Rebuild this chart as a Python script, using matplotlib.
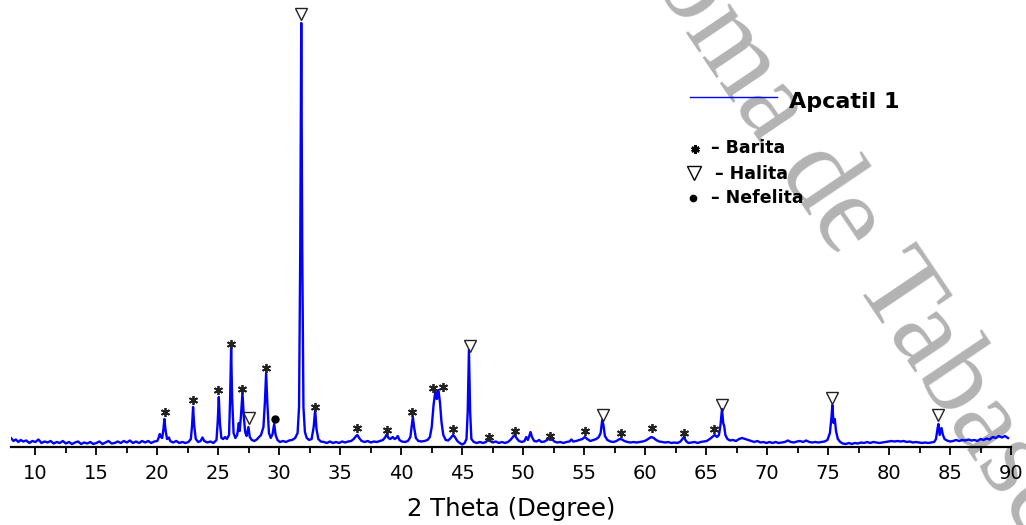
import matplotlib
matplotlib.use("Agg")
import matplotlib.pyplot as plt
from matplotlib.lines import Line2D
from matplotlib.ticker import MultipleLocator

plt.rcParams['font.family'] = ['DejaVu Sans']

# ---------------- data ----------------
two_theta = [
    8.0, 8.2, 8.4, 8.6, 8.8, 9.0, 9.25, 9.5, 9.75, 10.0, 10.25, 10.5, 10.75, 11.0, 11.25, 11.5, 11.75,
    12.0, 12.25, 12.5, 12.75, 13.0, 13.25, 13.5, 13.75, 14.0, 14.25, 14.5, 14.75, 15.0, 15.25, 15.5,
    15.75, 16.0, 16.25, 16.5, 16.75, 17.0, 17.25, 17.5, 17.75, 18.0, 18.25, 18.5, 18.75, 19.0, 19.25,
    19.5, 19.75,
    20.0, 20.1, 20.2, 20.3, 20.4, 20.5, 20.58, 20.68, 20.8, 20.95, 21.05, 21.3, 21.55, 21.8, 22.05,
    22.3, 22.55, 22.75, 22.85, 22.93, 23.02, 23.15, 23.35, 23.55, 23.7, 23.85, 24.1, 24.35, 24.6,
    24.85, 24.95, 25.04, 25.13, 25.25, 25.4, 25.55, 25.7, 25.88, 25.97, 26.05, 26.13, 26.25, 26.4,
    26.55, 26.68, 26.75, 26.85, 26.98, 27.08, 27.2, 27.32, 27.47, 27.58, 27.75, 27.95, 28.15, 28.35,
    28.5, 28.7, 28.82, 28.92, 29.02, 29.15, 29.3, 29.45, 29.58, 29.7, 29.85, 30.05, 30.3, 30.55,
    30.8, 31.05, 31.3, 31.5, 31.62, 31.72, 31.8, 31.88, 31.98, 32.1, 32.25, 32.45, 32.65, 32.82,
    32.94, 33.05, 33.2, 33.4, 33.65, 33.9,
    34.15, 34.4, 34.65, 34.9, 35.15, 35.4, 35.65, 35.9, 36.1, 36.3, 36.4, 36.55, 36.75, 37.0, 37.25,
    37.5, 37.75, 38.0, 38.25, 38.5, 38.7, 38.82, 38.95, 39.1, 39.3, 39.45, 39.6, 39.72, 39.85, 40.05,
    40.3, 40.55, 40.75, 40.87, 40.95, 41.05, 41.2, 41.4, 41.65, 41.9, 42.15, 42.35, 42.5, 42.65,
    42.8, 42.92, 43.05, 43.18, 43.3, 43.45, 43.65, 43.85, 44.05, 44.25, 44.4, 44.6, 44.8, 45.0,
    45.2, 45.35, 45.45, 45.55, 45.65, 45.75, 45.95,
    46.2, 46.45, 46.7, 46.95, 47.15, 47.3, 47.5, 47.75, 48.0, 48.25, 48.5, 48.75, 48.95, 49.15,
    49.3, 49.45, 49.65, 49.9, 50.1, 50.25, 50.38, 50.5, 50.6, 50.72, 50.9, 51.1, 51.3, 51.5, 51.75,
    51.95, 52.15, 52.35, 52.55, 52.8, 53.05, 53.3, 53.55, 53.8, 53.95, 54.1, 54.35, 54.6, 54.85,
    55.05, 55.25, 55.5, 55.75, 56.0, 56.2, 56.35, 56.48, 56.58, 56.7, 56.9, 57.15, 57.4, 57.65,
    57.9, 58.1, 58.3, 58.55, 58.8, 59.05, 59.3, 59.55, 59.8, 60.05, 60.3, 60.5, 60.7, 60.9, 61.15,
    61.4, 61.65, 61.9, 62.15, 62.4, 62.65, 62.9, 63.05, 63.18, 63.35, 63.55, 63.8, 64.05, 64.3,
    64.55, 64.8, 65.05, 65.3, 65.5, 65.7, 65.9, 66.05, 66.18, 66.3, 66.4, 66.48, 66.58, 66.75, 66.95,
    67.2, 67.45, 67.7, 67.95, 68.2, 68.45, 68.7, 68.95, 69.2, 69.45, 69.7, 69.95, 70.2, 70.45, 70.7,
    70.95, 71.2, 71.45, 71.7, 71.95, 72.2, 72.45, 72.7, 72.95, 73.2, 73.45, 73.7, 73.95, 74.2, 74.45,
    74.7, 74.95, 75.15, 75.28, 75.35, 75.45, 75.55, 75.65, 75.8, 76.0, 76.2, 76.45, 76.7, 76.95,
    77.2, 77.45, 77.7, 77.95, 78.2, 78.45, 78.7, 78.95, 79.2, 79.45, 79.7, 79.95, 80.2, 80.45, 80.7,
    80.95, 81.2, 81.45, 81.7, 81.95, 82.2, 82.45, 82.7, 82.95, 83.2, 83.45, 83.7, 83.85, 83.97,
    84.05, 84.15, 84.3, 84.42, 84.55, 84.75, 85.0, 85.25, 85.5, 85.75, 86.0, 86.25, 86.5, 86.75,
    87.0, 87.25, 87.5, 87.75, 88.0, 88.25, 88.5, 88.75, 89.0, 89.25, 89.5, 89.75,
]
intensity = [
    9, 6, 7.5, 5, 7, 5.5, 6.5, 4, 6, 5, 7.5, 4, 5.5, 4.5, 6, 3.5, 5,
    4, 6, 3.5, 5, 3, 4.5, 5.5, 3, 4.5, 3.5, 5, 3, 4, 5.5, 3,
    4.5, 6, 3.5, 4, 5.5, 4, 6, 4.5, 6.5, 4, 5.5, 4, 6, 4.5, 6,
    4, 5.5,
    6, 9, 13, 10, 9, 18, 28, 16, 8, 9.5, 6, 4.5, 6, 4, 5,
    4, 5, 8, 22, 40, 22, 8, 5, 6, 9.5, 6, 4.5, 5.5, 4,
    7, 25, 50, 24, 9, 8, 10, 8, 12, 50, 99, 50, 14, 9,
    12, 24, 16, 30, 54, 32, 15, 11, 20, 10, 7, 6, 7.5, 10,
    12, 20, 45, 74, 44, 14, 9, 13, 23, 12, 7, 5, 6, 5,
    6.5, 7, 9, 14, 40, 200, 424, 200, 40, 15, 9, 7, 8, 20,
    37, 18, 8, 5.5, 5, 4,
    5.5, 4, 5, 4, 5.5, 4.5, 5.5, 6, 8, 11, 12, 9, 6, 5, 6,
    4.5, 5.5, 5, 6, 7, 10, 13, 9, 8, 10, 8, 9, 11, 7, 5.5,
    5, 6, 10, 22, 30, 20, 9, 6, 5.5, 6, 7, 10, 20, 42,
    56, 48, 57, 44, 25, 12, 7, 6.5, 9, 12, 10, 6, 4, 2.5,
    4, 8, 35, 97, 35, 8, 5,
    4, 5, 4, 5, 8, 6, 4.5, 5.5, 4, 5, 4, 5, 7, 10,
    12, 9, 6, 5, 6, 10, 7, 11, 15, 10, 6, 5.5, 7, 5, 5.5,
    7, 8.5, 8, 5.5, 4.5, 5, 4, 5, 5.5, 7.5, 5.5, 6, 7, 8,
    10, 8, 6, 7, 8, 10, 14, 27, 22, 11, 7, 5.5, 5, 6,
    8, 7.5, 6, 5, 4.5, 5, 4.5, 5, 5.5, 6.5, 8.5, 10, 9, 7, 5.5,
    5, 4.5, 5, 4, 4.5, 4, 5.5, 8, 10, 6, 4, 4.5, 5, 4,
    5, 5.5, 6, 8, 10, 12, 10, 12, 22, 38, 24, 21, 12, 8, 6.5,
    7, 6, 8, 9, 8, 7, 6, 5, 6, 4.5, 5, 4, 5, 4, 5,
    4, 4.5, 5, 6.5, 5, 4.5, 5.5, 6, 5, 6.5, 5, 4.5, 5, 4.5, 5,
    5.5, 7, 14, 30, 42, 24, 28, 16, 8, 5, 3.5, 3, 4, 3,
    4, 3.5, 4.5, 4, 5, 4, 5, 4.5, 4, 4.5, 5, 5.5, 6, 5.5, 6,
    5.5, 6, 5, 5.5, 4.5, 5, 4.5, 4, 4.5, 4, 4.5, 5, 8, 18,
    23, 12, 19, 12, 8, 6.5, 5.5, 6, 7, 6, 7, 6.5, 7.5, 6.5,
    7, 6, 8, 7, 8.5, 7.5, 10, 9, 11, 9.5, 11, 9,
]

# phase markers (position, height of the symbol)
barita_x = [20.6, 22.9, 25.0, 26.0, 26.95, 28.9, 32.9, 36.4, 38.8, 40.9, 42.62, 43.39, 44.25,
            47.2, 49.3, 52.2, 55.1, 58.0, 60.53, 63.2, 65.64]
barita_y = [35, 47, 57, 103, 58, 79, 40, 19, 17, 35, 59, 60, 18,
            10, 16, 11, 16, 14, 19, 14, 18]
halita_x = [27.55, 31.8, 45.6, 56.54, 66.33, 75.35, 84.02]
halita_y = [29, 433, 101, 32, 42, 49, 32]
nefelita_x = [29.63]
nefelita_y = [28]

major_ticks = list(range(10, 95, 5))
series_name = "Apcatil 1"
legend_labels = ["\u2013 Barita", "\u2013 Halita", "\u2013 Nefelita"]
x_title = "2 Theta (Degree)"

# ---------------- figure ----------------
W, H = 1026, 525
fig = plt.figure(figsize=(W / 100, H / 100), dpi=100)
ax = fig.add_axes([11 / W, 78 / H, 1000 / W, 447 / H])
ax.patch.set_visible(False)

ax.plot(two_theta, intensity, color='#0000ff', lw=1.7, zorder=3)

ax.plot(barita_x, barita_y, linestyle='none', marker=(6, 2, 0), ms=6.5, mew=1.3,
        color='#222222', zorder=4)
ax.plot(halita_x, halita_y, linestyle='none', marker='v', ms=8, mew=1.0,
        mfc='none', mec='#222222', zorder=4)
ax.plot(nefelita_x, nefelita_y, linestyle='none', marker='o', ms=5,
        color='black', zorder=4)

ax.set_xlim(8, 90)
ax.set_ylim(0, 447)
for s in ('top', 'left', 'right'):
    ax.spines[s].set_visible(False)
ax.spines['bottom'].set_linewidth(1.6)
ax.set_yticks([])
ax.set_xticks(major_ticks)
ax.set_xticklabels([str(t) for t in major_ticks])
ax.xaxis.set_minor_locator(MultipleLocator(2.5))
ax.tick_params(axis='x', which='major', direction='out', length=6, width=1.3,
               labelsize=14, pad=6)
ax.tick_params(axis='x', which='minor', direction='out', length=4, width=1.3)
ax.set_xlabel(x_title, fontsize=17.5)
ax.xaxis.set_label_coords(0.5, -50 / 447)

# ---------------- legend / key ----------------
def fxy(px, py):
    return (px / W, 1 - py / H)

fig.add_artist(Line2D([690 / W, 777 / W], [1 - 97 / H] * 2, transform=fig.transFigure,
                      color='#0000ff', lw=1.0))
fig.text(*fxy(789, 108), series_name, fontsize=16, fontweight='bold', ha='left', va='baseline')

fig.add_artist(Line2D([695 / W], [1 - 148.5 / H], transform=fig.transFigure, marker=(6, 2, 0),
                      ms=6, mew=1.8, color='black', linestyle='none'))
fig.add_artist(Line2D([694 / W], [1 - 173 / H], transform=fig.transFigure, marker='v',
                      ms=9.5, mew=1.0, mfc='none', mec='black', linestyle='none'))
fig.add_artist(Line2D([693 / W], [1 - 198 / H], transform=fig.transFigure, marker='o',
                      ms=4.5, color='black', linestyle='none'))
for lbl, px, py in zip(legend_labels, [711, 715, 711], [153, 179, 203]):
    fig.text(*fxy(px, py), lbl, fontsize=12.5, fontweight='bold', ha='left', va='baseline')

# ---------------- watermark ----------------
wm_kw = dict(fontsize=82, color='#b3b3b3', family=['Liberation Serif', 'DejaVu Serif'],
             rotation=-56, rotation_mode='anchor', va='baseline', zorder=-1)
fig.text(*fxy(684, 30), "ma de Tabasco", ha='left', **wm_kw)
fig.text(*fxy(684, 30), "Aut\u00f3no", ha='right', **wm_kw)

fig.savefig("out.png", dpi=100)
